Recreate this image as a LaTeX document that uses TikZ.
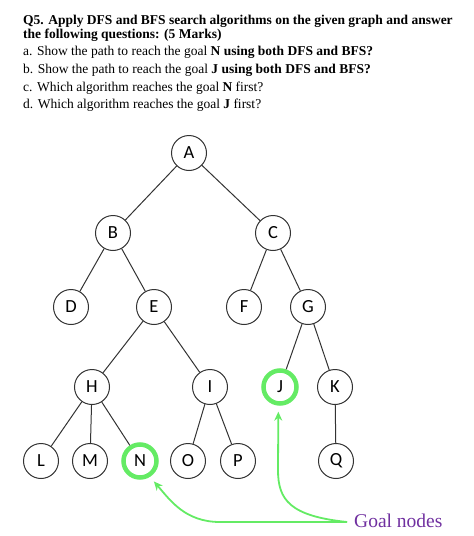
\documentclass[tikz,border=0pt]{standalone}
\usepackage{fontspec}
\setmainfont{Liberation Serif}
\newfontfamily\nodefont{Carlito}
\usetikzlibrary{arrows.meta}
\definecolor{goalgreen}{RGB}{100,235,100}
\definecolor{goalpurple}{RGB}{112,48,160}
\begin{document}
\begin{tikzpicture}[x=1pt,y=-1pt,
  tnode/.style={circle,draw=black!80,line width=1pt,minimum size=35pt,inner sep=0pt,font=\nodefont\fontsize{18.5}{18.5}\selectfont},
  goalnode/.style={tnode,draw=goalgreen,line width=4.5pt,minimum size=33pt},
  edge/.style={draw=black!80,line width=1pt},
  garrow/.style={draw=goalgreen,line width=1.8pt,-{Stealth[length=9pt,width=8pt]}},
  qline/.style={anchor=base west,inner sep=0pt,font=\fontsize{13.5}{13.5}\selectfont}]
\useasboundingbox (0,0) rectangle (474,536);
\node[qline] (q1) at (23,24) {\bfseries Q5. Apply DFS and BFS search algorithms on the given graph and answer};
\node[qline] (q2) at (23,38) {\bfseries the following questions: (5 Marks)};
\node[qline] (qa) at (23,55) {a. Show the path to reach the goal \textbf{N using both DFS and BFS?}};
\node[qline] (qb) at (23,73) {b. Show the path to reach the goal \textbf{J using both DFS and BFS?}};
\node[qline] (qc) at (23,91) {c. Which algorithm reaches the goal \textbf{N} first?};
\node[qline] (qd) at (23,108) {d. Which algorithm reaches the goal \textbf{J} first?};

\node[tnode] (A) at (189,153) {A};
\node[tnode] (B) at (113,233) {B};
\node[tnode] (C) at (273,233) {C};
\node[tnode] (D) at (71,307) {D};
\node[tnode] (E) at (154,307) {E};
\node[tnode] (F) at (244,307) {F};
\node[tnode] (G) at (308,307) {G};
\node[tnode] (H) at (92,387) {H};
\node[tnode] (I) at (210,387) {I};
\node[goalnode] (J) at (280,387) {J};
\node[tnode] (K) at (335,387) {K};
\node[tnode] (L) at (41,461) {L};
\node[tnode] (M) at (90,461) {M};
\node[goalnode] (N) at (140,461) {N};
\node[tnode] (O) at (188,461) {O};
\node[tnode] (P) at (238,461) {P};
\node[tnode] (Q) at (336,461) {Q};

\foreach \a/\b in {A/B,A/C,B/D,B/E,C/F,C/G,E/H,E/I,G/J,G/K,H/L,H/M,H/N,I/O,I/P,K/Q}
  \draw[edge] (\a) -- (\b);

\node[anchor=base west,inner sep=0pt,text=goalpurple,font=\fontsize{19.5}{19.5}\selectfont] (goal) at (354,527) {Goal nodes};
\coordinate (gs) at (347,522);
\draw[garrow,shorten >=6pt] (gs) -- (220,522) .. controls (185,522) and (170,500) .. (N.-58);
\draw[garrow,shorten >=6pt] (gs) .. controls (290,516) and (278,500) .. (278,470) -- (J.-95);
\end{tikzpicture}
\end{document}
